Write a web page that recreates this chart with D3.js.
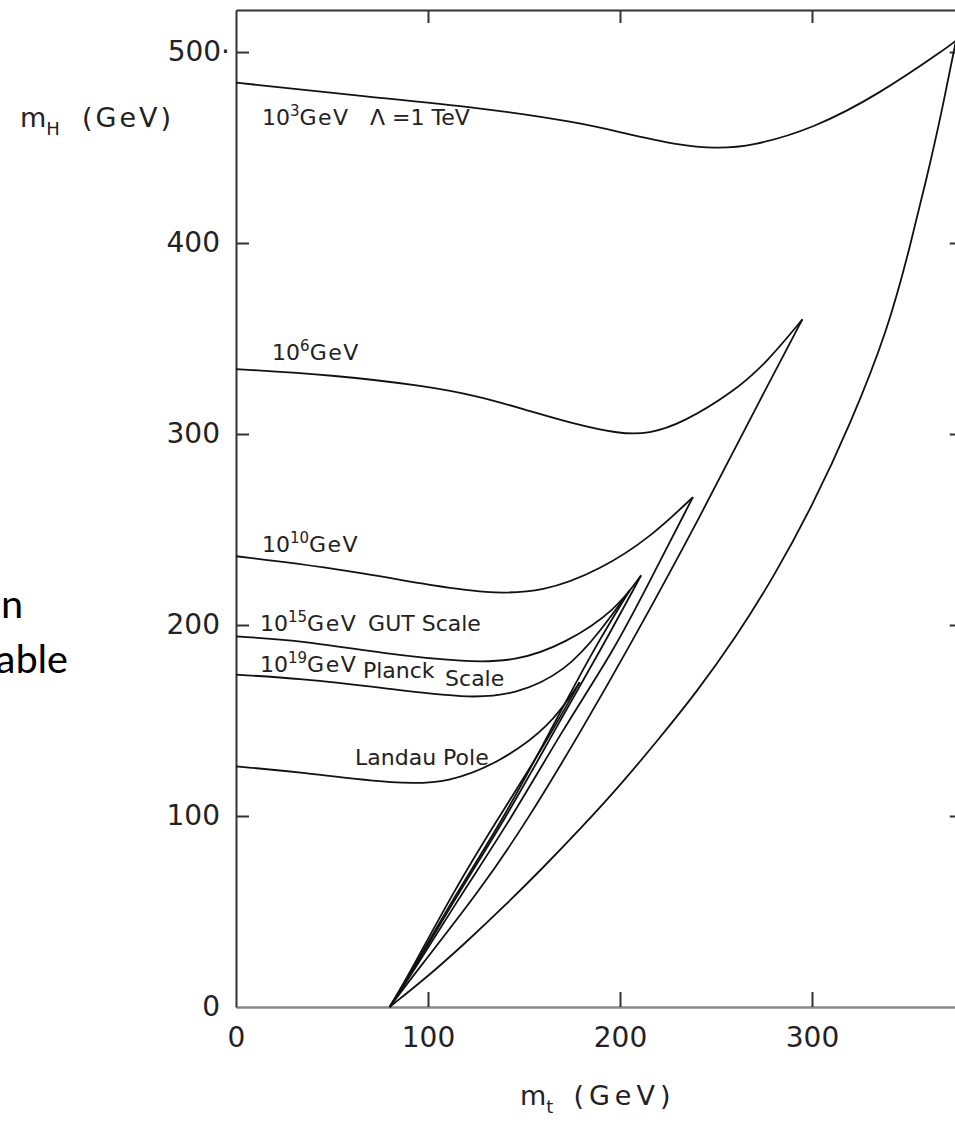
<!DOCTYPE html>
<html lang="en">
<head>
<meta charset="UTF-8" />
<title>Higgs mass bounds vs top quark mass (D3.js)</title>
<script src="https://d3js.org/d3.v7.min.js"></script>
<style>
  body { margin: 0; background: #fff; }
  svg { display: block; }
  .axis text { font-family: "DejaVu Sans", sans-serif; font-size: 28px; fill: #222; }
  .axis path, .axis line { stroke: #333; stroke-width: 2px; }
  .axis.bottom path { stroke: #888; stroke-width: 2.5px; }
  .lbl { font-family: "DejaVu Sans", sans-serif; font-size: 22px; fill: #222; }
  .title { font-family: "DejaVu Sans", sans-serif; font-size: 27px; fill: #222; }
  .curve { fill: none; stroke: #111; stroke-width: 1.8px; }
  .slide { font-family: Carlito, Calibri, "Open Sans", sans-serif; font-size: 42px; fill: #000; }
</style>
</head>
<body>
<div id="chart"></div>
<script>
// m_t, m_H pairs (GeV)
const cutoff1e3   = [[0,484],[64,477],[127,471],[179,463],[200,458],[231,451],[250,449.5],[268,450.5],[301,460],[335,478],[370,502],[375,506]];
const stability   = [[80,0],[100,16],[120,34],[140,53],[160,73],[180,94],[200,116],[220,140],[240,165],[260,193],[280,225],[300,262],[320,305],[340,356],[351,398],[360,435],[367,466],[375,506]];
const upper1e6    = [[0,334],[50,331],[100,325],[125,320],[150,313],[175,305.5],[200,300],[215,300],[233,306],[259,322],[276,337],[295,360]];
const lower1e6    = [[80,0],[95,20],[127,61],[152,98],[180,145],[204,187],[242,257],[276,324],[295,360]];
const upper1e10   = [[0,236],[50,230],[100,221],[130,216.5],[160,217],[190,229],[216,246],[238,267]];
const lower1e10   = [[80,0],[92,18],[118,60],[143,98],[170,145],[197,187],[214,220],[238,267]];
const upper1e15   = [[0,194],[33,192],[77,185],[120,180.5],[146,181],[172,190.5],[198,208],[211,226]];
const lower1e15   = [[80,0],[91,17],[116,60],[140,98],[166,145],[190,187],[211,226]];
const upper1e19   = [[0,174],[33,172],[77,167],[120,161.5],[146,163.5],[172,176],[190,197],[205,218]];
const lower1e19   = [[80,0],[90,16],[115,60],[139,98],[164,145],[186,187],[205,218]];
const upperLandau = [[0,126],[33,123],[85,116.5],[111,117.5],[137,128],[163.5,146.6],[179,170]];
const lowerLandau = [[80,0],[89,15],[113,60],[136,98],[160,136],[179,170]];

const xTicks = [0, 100, 200, 300];
const yTicks = [0, 100, 200, 300, 400, 500];

// curve annotations: [m_t, m_H, base, superscript, rest]
const labels = [
  [13.5, 461.8, "10", "3", "GeV"],
  [69.8, 461.8, "\u039B =1 TeV", "", ""],
  [18.8, 338.7, "10", "6", "GeV"],
  [13.5, 238.2, "10", "10", "GeV"],
  [12.5, 196.9, "10", "15", "GeV"],
  [68.8, 196.9, "GUT Scale", "", ""],
  [12.5, 175.4, "10", "19", "GeV"],
  [66.1, 172.3, "Planck", "", ""],
  [108.9, 168.1, "Scale", "", ""],
  [62.0, 126.7, "Landau Pole", "", ""]
];

const width = 955, height = 1123;

const svg = d3.select("#chart").append("svg")
  .attr("width", width)
  .attr("height", height);

const x = d3.scaleLinear().domain([0, 378]).range([236, 236 + 378 * 1.92]);
const y = d3.scaleLinear().domain([0, 522]).range([1007, 10]);

const line = d3.line()
  .x(d => x(d[0]))
  .y(d => y(d[1]))
  .curve(d3.curveBasis);

// frame with inward ticks
svg.append("g").attr("class", "axis bottom")
  .attr("transform", `translate(0,${y(0)})`)
  .call(d3.axisBottom(x).tickValues(xTicks).tickSize(-15).tickSizeOuter(0).tickPadding(20))
  .call(g => g.selectAll(".tick").filter(d => d === 0).select("line").remove());

svg.append("g").attr("class", "axis")
  .attr("transform", `translate(${x(0)},0)`)
  .call(d3.axisLeft(y).tickValues(yTicks).tickSize(-13).tickSizeOuter(0).tickPadding(16)
    .tickFormat(d => d === 500 ? "500\u00B7" : d))
  .call(g => g.selectAll(".tick").filter(d => d === 0).select("line").remove())
  .call(g => g.selectAll(".tick").filter(d => d === 500).select("text").attr("x", -6));

svg.append("g").attr("class", "axis")
  .attr("transform", `translate(0,${y(522)})`)
  .call(d3.axisTop(x).tickValues(xTicks.slice(1)).tickSize(-13).tickSizeOuter(0).tickFormat(""));

svg.append("g").attr("class", "axis")
  .attr("transform", `translate(${x(378)},0)`)
  .call(d3.axisRight(y).tickValues(yTicks.slice(1)).tickSize(-12).tickSizeOuter(0).tickFormat(""));

// curves
const curves = [cutoff1e3, stability, upper1e6, lower1e6, upper1e10, lower1e10,
  upper1e15, lower1e15, upper1e19, lower1e19, upperLandau, lowerLandau];

svg.append("g").selectAll("path")
  .data(curves)
  .join("path")
  .attr("class", "curve")
  .attr("d", line);

// curve labels
labels.forEach(([mt, mh, base, sup, rest]) => {
  const t = svg.append("text").attr("class", "lbl")
    .attr("x", x(mt)).attr("y", y(mh));
  t.append("tspan").text(base);
  if (sup) {
    t.append("tspan").attr("font-size", 15).attr("dy", -9).text(sup);
    t.append("tspan").attr("dy", 9).attr("letter-spacing", 1.5).text(rest);
  }
});

// axis titles
const yt = svg.append("text").attr("class", "title").attr("x", 20).attr("y", 127);
yt.append("tspan").text("m");
yt.append("tspan").attr("font-size", 18).attr("dy", 8).text("H");
svg.append("text").attr("class", "title").attr("x", 82).attr("y", 127)
  .attr("letter-spacing", 3).text("(GeV)");

const xt = svg.append("text").attr("class", "title").attr("x", 520).attr("y", 1105);
xt.append("tspan").text("m");
xt.append("tspan").attr("font-size", 18).attr("dy", 8).text("t");
xt.append("tspan").attr("dy", -8).attr("dx", 20).attr("letter-spacing", 5).text("(GeV)");

// cut-off slide text at the left edge (cropped in the source picture too)
svg.append("text").attr("class", "slide").attr("x", 23).attr("y", 618)
  .attr("text-anchor", "end").text("n");
svg.append("text").attr("class", "slide").attr("x", 68).attr("y", 673)
  .attr("text-anchor", "end").text("able");
</script>
</body>
</html>
